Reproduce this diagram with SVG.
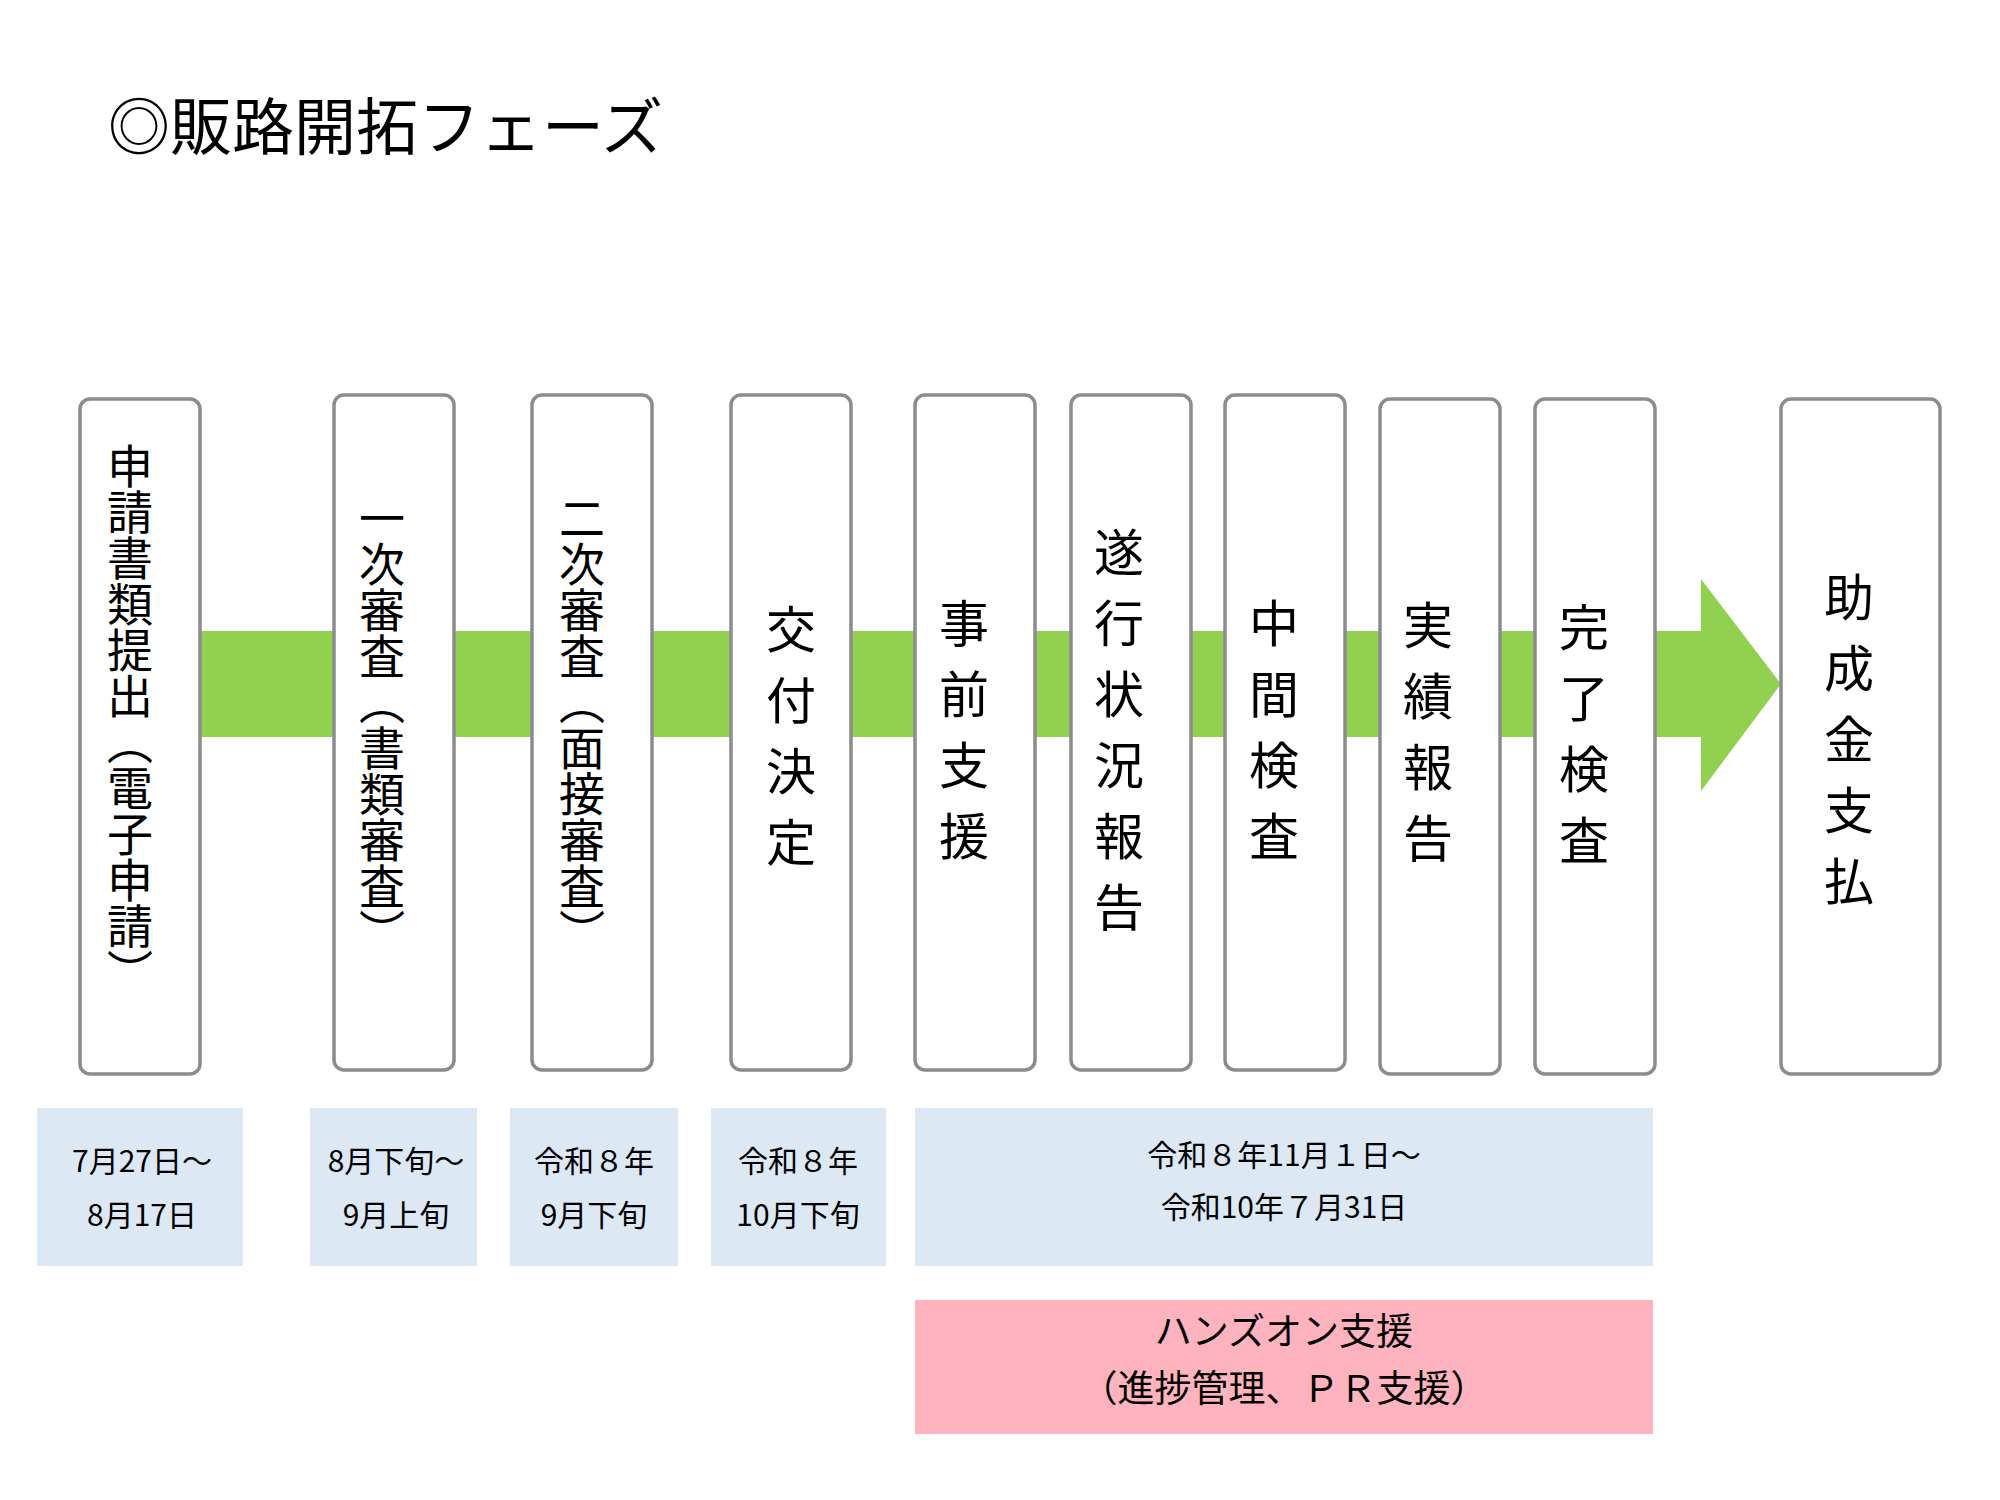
<svg xmlns="http://www.w3.org/2000/svg" width="2000" height="1500" viewBox="0 0 2000 1500">
<style>
text{font-family:"Noto Sans CJK JP","Noto Sans",sans-serif;fill:#000}
.box{fill:#fff;stroke:#8c8c8c;stroke-width:3.5}
.v{writing-mode:vertical-rl;font-size:46px}
.vs{writing-mode:vertical-rl;font-size:50px;letter-spacing:21px}
.d{fill:#dde8f5}
.dt{font-size:30px;text-anchor:middle}
.pt{font-size:37px;text-anchor:middle}
</style>
<rect width="2000" height="1500" fill="#fff"/>
<text x="108" y="150" font-size="62">◎販路開拓フェーズ</text>
<g id="connectors">
<rect x="195" y="631" width="1510" height="106" fill="#92d050"/>
<polygon points="1701,579 1781,684 1701,791" fill="#92d050"/>
</g>
<g id="n1"><rect class="box" x="80" y="399" width="120" height="675" rx="10"/><text class="v" x="130" y="443">申請書類提出（電子申請）</text></g>
<g id="n2"><rect class="box" x="334" y="395" width="120" height="675" rx="10"/><text class="v" x="382" y="495">一次審査（書類審査）</text></g>
<g id="n3"><rect class="box" x="532" y="395" width="120" height="675" rx="10"/><text class="v" x="582" y="495">二次審査（面接審査）</text></g>
<g id="n4"><rect class="box" x="731" y="395" width="120" height="675" rx="10"/><text class="vs" x="791" y="604">交付決定</text></g>
<g id="n5"><rect class="box" x="915" y="395" width="120" height="675" rx="10"/><text class="vs" x="964" y="598">事前支援</text></g>
<g id="n6"><rect class="box" x="1071" y="395" width="120" height="675" rx="10"/><text class="vs" x="1119" y="527">遂行状況報告</text></g>
<g id="n7"><rect class="box" x="1225" y="395" width="120" height="675" rx="10"/><text class="vs" x="1274" y="598">中間検査</text></g>
<g id="n8"><rect class="box" x="1380" y="399" width="120" height="675" rx="10"/><text class="vs" x="1428" y="600">実績報告</text></g>
<g id="n9"><rect class="box" x="1535" y="399" width="120" height="675" rx="10"/><text class="vs" x="1584" y="602">完了検査</text></g>
<g id="n10"><rect class="box" x="1781" y="399" width="159" height="675" rx="10"/><text class="vs" x="1849" y="572">助成金支払</text></g>
<g id="d1"><rect class="d" x="37" y="1108" width="206" height="158"/><text class="dt" x="142" y="1172">7月27日～</text><text class="dt" x="142" y="1226">8月17日</text></g>
<g id="d2"><rect class="d" x="310" y="1108" width="167" height="158"/><text class="dt" x="396" y="1172">8月下旬～</text><text class="dt" x="396" y="1226">9月上旬</text></g>
<g id="d3"><rect class="d" x="510" y="1108" width="168" height="158"/><text class="dt" x="594" y="1172">令和８年</text><text class="dt" x="594" y="1226">9月下旬</text></g>
<g id="d4"><rect class="d" x="711" y="1108" width="175" height="158"/><text class="dt" x="798" y="1172">令和８年</text><text class="dt" x="798" y="1226">10月下旬</text></g>
<g id="d5"><rect class="d" x="915" y="1108" width="738" height="158"/><text class="dt" x="1284" y="1166">令和８年11月１日～</text><text class="dt" x="1284" y="1218">令和10年７月31日</text></g>
<g id="p1"><rect x="915" y="1300" width="738" height="134" fill="#ffb3be"/><text class="pt" x="1284" y="1345">ハンズオン支援</text><text class="pt" x="1284" y="1402">（進捗管理、ＰＲ支援）</text></g>
</svg>
